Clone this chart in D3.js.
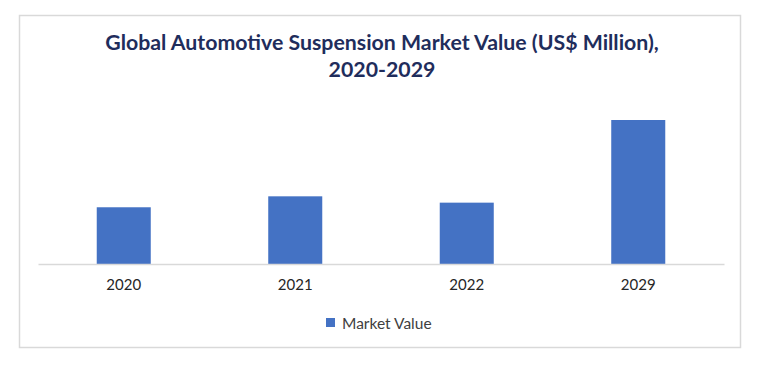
<!DOCTYPE html>
<html><head><meta charset="utf-8">
<script src="https://cdn.jsdelivr.net/npm/d3@7"></script>
<style>body{margin:0;background:#fff}svg{display:block}</style>
</head><body>
<svg id="c" width="760" height="367"></svg>
<script>
const categories = ["2020", "2021", "2022", "2029"];
const marketValue = [39.4, 47.0, 42.6, 100];
const seriesName = "Market Value";
const titleLines = ["Global Automotive Suspension Market Value (US$ Million),", "2020-2029"];

const svg = d3.select("#c");
const font = "Lato, 'Open Sans', sans-serif";

svg.append("rect").attr("x", 19.5).attr("y", 15.5).attr("width", 721).attr("height", 332)
  .attr("fill", "#fff").attr("stroke", "#d9d9d9").attr("stroke-width", 1.5);

const x = d3.scaleBand().domain(categories).range([38, 724]).padding(0);
const y = d3.scaleLinear().domain([0, 120]).range([264, 91.2]);
const barW = x.bandwidth() * 0.315;

svg.append("g").selectAll("rect").data(categories).join("rect")
  .attr("x", (d) => x(d) + x.bandwidth() / 2 - barW / 2)
  .attr("y", (d, i) => y(marketValue[i]))
  .attr("width", barW)
  .attr("height", (d, i) => y(0) - y(marketValue[i]))
  .attr("fill", "#4472c4");

const ax = svg.append("g").attr("transform", "translate(0,264)")
  .call(d3.axisBottom(x).tickSize(0).tickPadding(15));
ax.select(".domain").attr("stroke", "#d9d9d9").attr("stroke-width", 1.5);
ax.selectAll("text").attr("font-family", font).attr("font-size", 15).attr("fill", "#262626");

const t = svg.append("text").attr("text-anchor", "middle").attr("font-family", font)
  .attr("font-weight", "bold").attr("font-size", 21.3).attr("fill", "#1f2d5c");
titleLines.forEach((l, i) => t.append("tspan").attr("x", 382).attr("y", 50 + i * 27).text(l));

const lg = svg.append("g");
lg.append("rect").attr("x", 326).attr("y", 318).attr("width", 9).attr("height", 9).attr("fill", "#4472c4");
lg.append("text").attr("x", 342).attr("y", 328.5).attr("font-family", font).attr("font-size", 15.5)
  .attr("fill", "#404040").text(seriesName);
</script>
</body></html>
